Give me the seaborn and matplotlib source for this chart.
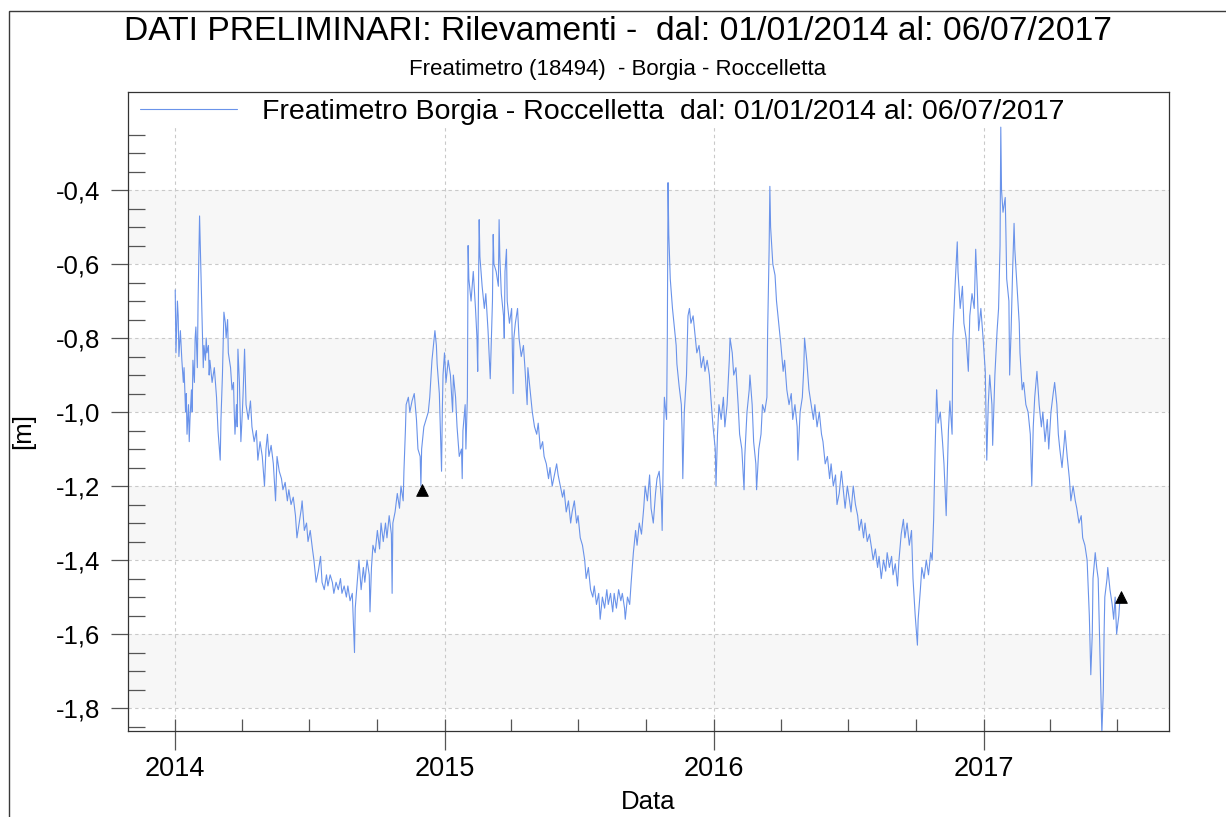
import numpy as np
import pandas as pd
import matplotlib
matplotlib.use("Agg")
import matplotlib.pyplot as plt
import matplotlib.dates as mdates
from matplotlib.ticker import FixedLocator, FuncFormatter
from matplotlib.patches import Rectangle
import seaborn as sns

# ---------------- data ----------------
start_date = "2014-01-01"
day_offsets = [
    0, 1, 3, 4, 5, 7, 9, 11, 12, 14, 15, 16, 18, 19, 20, 22, 23, 24, 26, 27, 28, 30, 31, 33, 34, 35, 37, 38, 39,
    41, 42, 43, 45, 46, 47, 50, 53, 56, 58, 61, 62, 64, 66, 68, 69, 71, 72, 75, 77, 79, 80, 81, 83, 84, 85, 87,
    88, 89, 91, 92, 94, 95, 96, 99, 102, 104, 107, 110, 112, 115, 118, 121, 123, 125, 127, 130, 133, 136, 138,
    141, 144, 146, 149, 152, 154, 157, 160, 163, 165, 168, 171, 172, 175, 178, 180, 183, 186, 188, 191, 194,
    197, 199, 202, 205, 207, 210, 213, 215, 218, 221, 224, 226, 229, 232, 234, 237, 240, 243, 244, 247, 249,
    252, 255, 257, 260, 263, 264, 266, 268, 271, 274, 277, 279, 282, 285, 287, 290, 293, 294, 295, 298, 301,
    304, 306, 309, 310, 312, 313, 316, 318, 321, 324, 327, 329, 332, 333, 334, 337, 340, 343, 345, 348, 351,
    352, 354, 355, 358, 359, 361, 362, 363, 365, 367, 370, 373, 376, 377, 380, 382, 385, 388, 389, 390, 393,
    394, 396, 397, 398, 401, 404, 407, 409, 410, 412, 413, 416, 419, 421, 424, 427, 430, 431, 432, 435, 438,
    439, 440, 442, 445, 446, 447, 449, 450, 453, 456, 458, 459, 461, 464, 466, 469, 472, 474, 477, 478, 481,
    484, 487, 490, 492, 495, 498, 500, 503, 506, 508, 511, 514, 517, 519, 522, 525, 527, 530, 533, 536, 538,
    541, 544, 546, 549, 552, 555, 557, 560, 563, 566, 568, 571, 574, 576, 579, 582, 585, 587, 590, 593, 595,
    598, 601, 604, 606, 609, 610, 613, 616, 618, 621, 624, 626, 629, 632, 635, 637, 640, 643, 645, 648, 651,
    653, 656, 659, 660, 662, 663, 666, 667, 668, 669, 671, 674, 676, 679, 680, 683, 686, 687, 688, 690, 693,
    695, 697, 699, 702, 705, 707, 710, 713, 716, 718, 721, 724, 726, 729, 732, 733, 735, 737, 740, 743, 745,
    748, 751, 752, 755, 757, 760, 763, 765, 768, 771, 772, 775, 778, 779, 782, 784, 787, 788, 791, 794, 796,
    799, 802, 803, 805, 806, 807, 810, 813, 815, 818, 821, 824, 826, 829, 832, 835, 837, 840, 843, 844, 847,
    850, 852, 853, 856, 859, 862, 865, 867, 870, 873, 876, 878, 881, 884, 887, 889, 892, 895, 897, 900, 903,
    906, 908, 911, 914, 916, 919, 922, 925, 927, 930, 933, 935, 938, 941, 944, 946, 949, 952, 954, 957, 960,
    963, 965, 968, 971, 973, 976, 979, 981, 984, 987, 989, 992, 995, 998, 1000, 1003, 1006, 1007, 1010, 1012,
    1015, 1018, 1021, 1024, 1026, 1028, 1030, 1032, 1033, 1034, 1037, 1040, 1042, 1045, 1046, 1048, 1050,
    1053, 1054, 1057, 1060, 1061, 1064, 1067, 1069, 1072, 1075, 1077, 1080, 1083, 1085, 1087, 1089, 1092,
    1095, 1098, 1100, 1102, 1104, 1107, 1108, 1111, 1114, 1116, 1118, 1119, 1120, 1122, 1125, 1126, 1127,
    1130, 1131, 1133, 1135, 1137, 1138, 1141, 1144, 1145, 1148, 1150, 1153, 1156, 1159, 1161, 1163, 1165,
    1168, 1171, 1174, 1176, 1179, 1182, 1184, 1187, 1190, 1192, 1195, 1197, 1199, 1202, 1205, 1206, 1209,
    1212, 1214, 1217, 1220, 1222, 1225, 1228, 1230, 1233, 1236, 1239, 1241, 1243, 1244, 1247, 1249, 1251,
    1253, 1255, 1256, 1258, 1259, 1260, 1263, 1264, 1267, 1270, 1272, 1274, 1276, 1279, 1280, 1282,
]
level_m = [
    -0.67, -0.84, -0.70, -0.74, -0.85, -0.78, -0.86, -0.92, -0.88, -1.00, -0.95, -1.06, -0.98, -1.08, -1.02,
    -0.94, -1.00, -0.86, -0.92, -0.80, -0.77, -0.88, -0.70, -0.47, -0.55, -0.62, -0.78, -0.88, -0.82, -0.86,
    -0.80, -0.84, -0.82, -0.90, -0.86, -0.92, -0.88, -0.96, -1.05, -1.13, -1.02, -0.90, -0.73, -0.76, -0.80,
    -0.75, -0.84, -0.88, -0.94, -0.92, -1.00, -1.06, -0.98, -1.04, -0.83, -0.92, -1.00, -1.08, -1.00, -0.95,
    -0.83, -0.90, -0.98, -1.02, -0.97, -1.04, -1.08, -1.05, -1.13, -1.08, -1.12, -1.20, -1.10, -1.06, -1.12,
    -1.09, -1.14, -1.24, -1.12, -1.16, -1.18, -1.21, -1.19, -1.24, -1.21, -1.25, -1.23, -1.28, -1.34, -1.30,
    -1.26, -1.24, -1.32, -1.30, -1.35, -1.32, -1.37, -1.40, -1.46, -1.43, -1.39, -1.46, -1.48, -1.44, -1.47,
    -1.44, -1.46, -1.49, -1.46, -1.48, -1.45, -1.49, -1.47, -1.50, -1.47, -1.51, -1.49, -1.65, -1.53, -1.45,
    -1.40, -1.48, -1.42, -1.46, -1.40, -1.44, -1.54, -1.42, -1.36, -1.38, -1.32, -1.37, -1.30, -1.35, -1.30,
    -1.34, -1.28, -1.33, -1.49, -1.30, -1.27, -1.22, -1.26, -1.20, -1.24, -1.16, -1.05, -0.98, -0.96, -1.00,
    -0.97, -0.95, -1.02, -1.10, -1.12, -1.20, -1.10, -1.04, -1.02, -1.00, -0.96, -0.86, -0.80, -0.78, -0.82,
    -0.87, -0.95, -1.02, -1.16, -1.00, -0.90, -0.84, -0.92, -0.86, -0.90, -1.00, -0.90, -0.96, -1.04, -1.12,
    -1.10, -1.18, -1.05, -0.98, -1.10, -0.96, -0.55, -0.64, -0.70, -0.62, -0.72, -0.80, -0.89, -0.48, -0.58,
    -0.66, -0.72, -0.68, -0.78, -0.91, -0.70, -0.52, -0.60, -0.62, -0.66, -0.48, -0.58, -0.68, -0.74, -0.80,
    -0.62, -0.56, -0.70, -0.76, -0.72, -0.95, -0.80, -0.76, -0.72, -0.80, -0.85, -0.82, -0.88, -0.98, -0.88,
    -0.94, -1.00, -1.04, -1.06, -1.03, -1.10, -1.08, -1.12, -1.14, -1.18, -1.15, -1.20, -1.17, -1.14, -1.17,
    -1.20, -1.23, -1.21, -1.27, -1.24, -1.30, -1.27, -1.24, -1.30, -1.28, -1.34, -1.36, -1.40, -1.45, -1.42,
    -1.48, -1.50, -1.47, -1.52, -1.49, -1.56, -1.50, -1.53, -1.48, -1.52, -1.49, -1.54, -1.49, -1.53, -1.48,
    -1.51, -1.49, -1.53, -1.56, -1.50, -1.52, -1.46, -1.38, -1.32, -1.36, -1.30, -1.33, -1.26, -1.20, -1.24,
    -1.17, -1.26, -1.30, -1.22, -1.18, -1.16, -1.24, -1.32, -1.06, -0.96, -1.02, -0.80, -0.38, -0.52, -0.64,
    -0.72, -0.76, -0.82, -0.87, -0.93, -0.98, -1.05, -1.18, -1.00, -0.90, -0.74, -0.72, -0.76, -0.74, -0.80,
    -0.84, -0.82, -0.88, -0.85, -0.89, -0.86, -0.90, -0.96, -1.04, -1.10, -1.20, -1.06, -0.98, -1.02, -0.96,
    -1.04, -0.98, -0.86, -0.80, -0.84, -0.90, -0.88, -0.98, -1.06, -1.10, -1.21, -1.12, -1.00, -0.94, -0.90,
    -0.98, -1.08, -1.14, -1.21, -1.10, -1.06, -0.98, -1.00, -0.96, -0.78, -0.56, -0.39, -0.50, -0.60, -0.63,
    -0.70, -0.76, -0.82, -0.89, -0.86, -0.94, -0.98, -0.95, -1.02, -0.98, -1.04, -1.13, -1.00, -0.96, -0.88,
    -0.80, -0.86, -0.94, -0.98, -1.02, -0.98, -1.04, -1.00, -1.06, -1.08, -1.14, -1.12, -1.18, -1.14, -1.20,
    -1.17, -1.25, -1.22, -1.16, -1.22, -1.26, -1.20, -1.24, -1.27, -1.20, -1.25, -1.28, -1.32, -1.29, -1.34,
    -1.30, -1.35, -1.33, -1.37, -1.40, -1.37, -1.42, -1.39, -1.45, -1.40, -1.43, -1.38, -1.42, -1.39, -1.44,
    -1.41, -1.47, -1.40, -1.33, -1.29, -1.34, -1.30, -1.36, -1.32, -1.45, -1.55, -1.63, -1.56, -1.48, -1.42,
    -1.45, -1.40, -1.44, -1.38, -1.40, -1.29, -1.10, -0.94, -0.98, -1.03, -1.00, -1.08, -1.14, -1.28, -1.20,
    -1.05, -0.97, -1.06, -0.80, -0.66, -0.54, -0.62, -0.72, -0.66, -0.76, -0.80, -0.89, -0.74, -0.68, -0.72,
    -0.56, -0.66, -0.78, -0.72, -0.80, -0.89, -1.13, -0.98, -0.90, -0.98, -1.09, -0.90, -0.78, -0.72, -0.55,
    -0.23, -0.40, -0.46, -0.42, -0.52, -0.64, -0.70, -0.90, -0.78, -0.62, -0.49, -0.56, -0.66, -0.76, -0.84,
    -0.94, -0.92, -0.98, -1.00, -1.06, -1.20, -1.04, -0.96, -0.89, -0.98, -1.04, -1.00, -1.08, -1.02, -1.10,
    -1.00, -0.95, -0.92, -0.98, -1.06, -1.10, -1.15, -1.08, -1.05, -1.12, -1.18, -1.24, -1.20, -1.24, -1.26,
    -1.30, -1.28, -1.34, -1.36, -1.40, -1.55, -1.71, -1.60, -1.45, -1.38, -1.42, -1.45, -1.62, -1.80, -1.87,
    -1.75, -1.60, -1.50, -1.45, -1.42, -1.48, -1.52, -1.56, -1.50, -1.60, -1.55, -1.52, -1.50,
]
marker_days = [334, 1282]
marker_levels = [-1.21, -1.50]

title_text = "DATI PRELIMINARI: Rilevamenti -  dal: 01/01/2014 al: 06/07/2017"
subtitle_text = "Freatimetro (18494)  - Borgia - Roccelletta"
series_label = "Freatimetro Borgia - Roccelletta  dal: 01/01/2014 al: 06/07/2017"
y_major = [-0.4, -0.6, -0.8, -1.0, -1.2, -1.4, -1.6, -1.8]
band_pairs = [(-0.6, -0.4), (-1.0, -0.8), (-1.4, -1.2), (-1.8, -1.6)]

# ---------------- frame ----------------
t0 = pd.Timestamp(start_date)
df = pd.DataFrame({"Data": t0 + pd.to_timedelta(day_offsets, unit="D"), "livello": level_m})
mk = pd.DataFrame({"Data": t0 + pd.to_timedelta(marker_days, unit="D"), "livello": marker_levels})

sns.set_theme(style="white")
plt.rcParams["font.family"] = ["Liberation Sans", "DejaVu Sans"]
plt.rcParams["text.color"] = "black"
plt.rcParams["axes.labelcolor"] = "black"

W, H = 1226, 817
fig = plt.figure(figsize=(W / 100, H / 100), dpi=100)
fig.patch.set_facecolor("white")
ax = fig.add_axes([128 / W, 1 - 731 / H, (1169 - 128) / W, (731 - 92) / H])
ax.set_facecolor("white")

# outer frame of the figure
fig.add_artist(Rectangle((9 / W, -0.05), 1.2, 1 - 11 / H + 0.05, transform=fig.transFigure,
                         fill=False, edgecolor="#3a3a3a", linewidth=1.0))

ymin, ymax = -1.862, -0.135
ax.set_ylim(ymin, ymax)
ax.set_xlim(t0 + pd.Timedelta(days=-64), t0 + pd.Timedelta(days=1347))

for lo, hi in band_pairs:
    ax.axhspan(lo, hi, color="#f7f7f7", zorder=0, linewidth=0)
for v in y_major:
    ax.axhline(v, color="#c9c9c9", linestyle=(0, (3, 3)), linewidth=0.8, zorder=0.5)
grid_top = (-0.23 - ymin) / (ymax - ymin)
for yr in [2014, 2015, 2016, 2017]:
    ax.axvline(pd.Timestamp(f"{yr}-01-01"), ymin=0, ymax=grid_top, color="#c9c9c9",
               linestyle=(0, (3, 3)), linewidth=0.8, zorder=0.5)

sns.lineplot(data=df, x="Data", y="livello", ax=ax, color="#6a93ea", linewidth=0.8,
             label=series_label, zorder=3)
sns.scatterplot(data=mk, x="Data", y="livello", ax=ax, marker="^", s=70, color="black",
                edgecolor="black", legend=False, zorder=4)

# axes styling
for s in ax.spines.values():
    s.set_visible(True)
    s.set_color("#333333")
    s.set_linewidth(0.9)

ax.yaxis.set_major_locator(FixedLocator(y_major))
ax.yaxis.set_minor_locator(FixedLocator([round(-0.25 - 0.05 * i, 2) for i in range(33)
                                         if round((-0.25 - 0.05 * i) / 0.2, 6) % 1 != 0]))
ax.yaxis.set_major_formatter(FuncFormatter(lambda v, p: f"{v:.1f}".replace(".", ",")))
ax.tick_params(axis="y", which="major", direction="out", length=12, width=0.9, color="#555555",
               labelsize=18.5, labelcolor="black", pad=8, left=True)
ax.tick_params(axis="y", which="minor", direction="in", length=12, width=0.9, color="#555555", left=True)

ax.xaxis.set_major_locator(mdates.YearLocator())
ax.xaxis.set_major_formatter(mdates.DateFormatter("%Y"))
ax.xaxis.set_minor_locator(mdates.MonthLocator(bymonth=[1, 4, 7, 10]))
ax.xaxis.remove_overlapping_locs = False
ax.tick_params(axis="x", which="major", direction="out", length=14, width=0.9, color="#555555",
               labelsize=19.5, labelcolor="black", pad=4, bottom=True)
ax.tick_params(axis="x", which="minor", direction="in", length=9, width=0.9, color="#555555", bottom=True)

ax.set_xlabel("Data", fontsize=18.5, labelpad=6, color="black")
ax.set_ylabel("[m]", fontsize=18.5, color="black")
ax.yaxis.set_label_coords(-0.089, 0.47)

leg = ax.legend(loc="upper left", bbox_to_anchor=(140 / W, 1 - 99 / H), bbox_transform=fig.transFigure,
                frameon=False, fontsize=20.5, handlelength=3.4, handletextpad=0.9,
                borderpad=0, borderaxespad=0, labelcolor="black")

fig.text(618 / W, 1 - 31 / H, title_text, ha="center", va="center", fontsize=24.2, color="black")
fig.text(618 / W, 1 - 69 / H, subtitle_text, ha="center", va="center", fontsize=16, color="black")

fig.savefig("out.png", dpi=100, facecolor="white")
